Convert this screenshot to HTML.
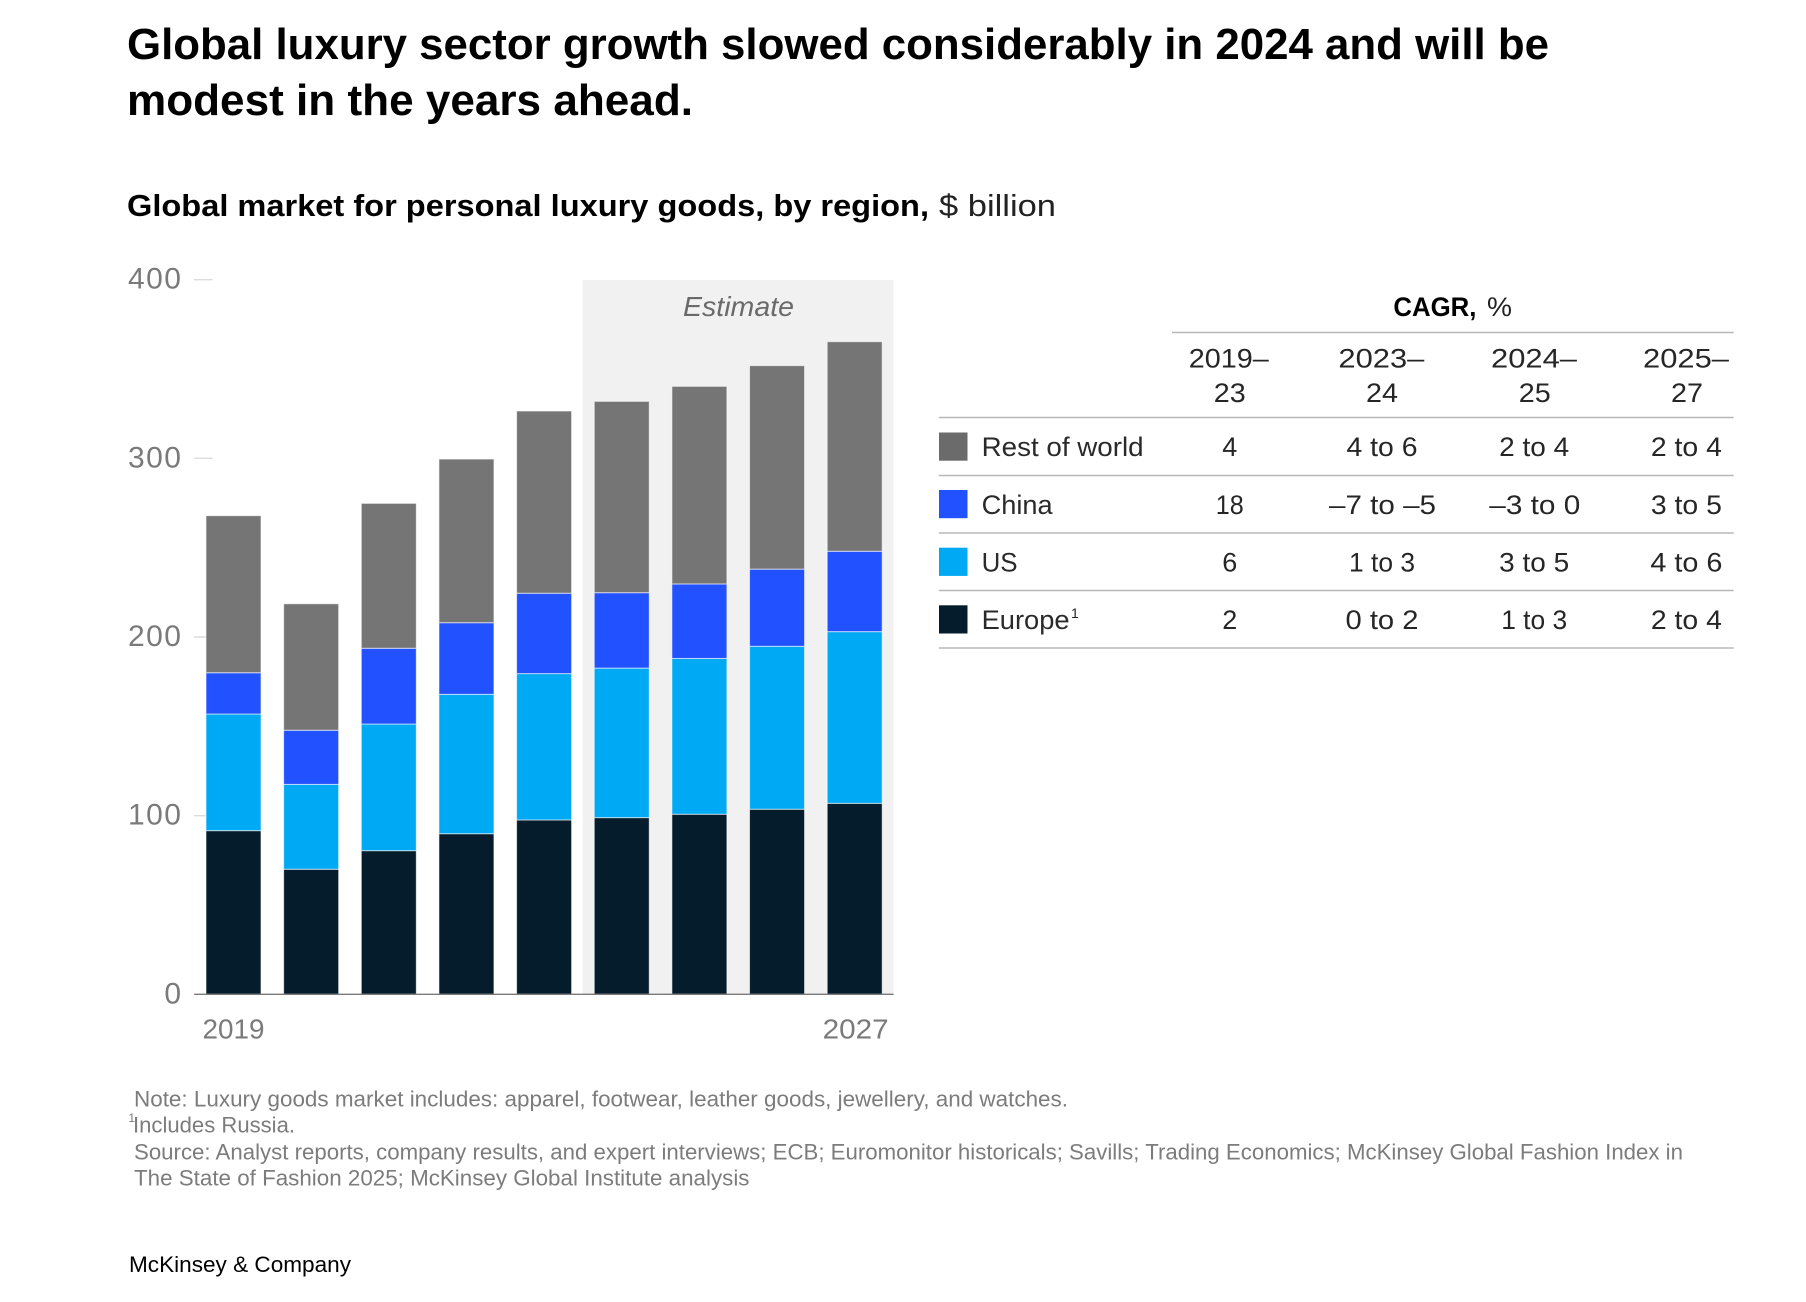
<!DOCTYPE html>
<html lang="en">
<head>
<meta charset="utf-8">
<title>Global luxury sector growth</title>
<style>
html,body{margin:0;padding:0;background:#fff;}
svg{display:block;font-family:"Liberation Sans",Arial,sans-serif;}
.cell{font-size:27px;fill:#262626;text-anchor:middle;}
.lab{font-size:27px;fill:#2a2a2a;}
.foot{font-size:22px;fill:#7c7c7c;}
.rule{stroke:#b8b8b8;stroke-width:1.4;}
</style>
</head>
<body>
<svg id="page" xmlns="http://www.w3.org/2000/svg" width="1806" height="1302" viewBox="0 0 1806 1302">
  <text x="127" y="59" font-size="44" font-weight="700" fill="#000" textLength="1422" lengthAdjust="spacingAndGlyphs">Global luxury sector growth slowed considerably in 2024 and will be</text>
  <text x="127" y="115" font-size="44" font-weight="700" fill="#000" textLength="566" lengthAdjust="spacingAndGlyphs">modest in the years ahead.</text>
  <text x="127" y="216" font-size="31" font-weight="700" fill="#000" textLength="802" lengthAdjust="spacingAndGlyphs">Global market for personal luxury goods, by region,</text>
  <text x="939" y="216" font-size="31" fill="#222" textLength="117" lengthAdjust="spacingAndGlyphs">$ billion</text>

  <rect x="582.7" y="280" width="310.6" height="714.3" fill="#f1f1f1"/>
  <text x="683" y="316" font-size="28" font-style="italic" fill="#6a6a6a" textLength="111" lengthAdjust="spacingAndGlyphs">Estimate</text>

  <g id="ticks"></g>
  <g id="bars"></g>
  <g id="xlabels"></g>

  <g>
    <text x="1393.4" y="316" font-size="27" font-weight="700" fill="#000" textLength="83" lengthAdjust="spacingAndGlyphs">CAGR,</text>
    <text x="1487" y="316" font-size="27" fill="#222" textLength="25" lengthAdjust="spacingAndGlyphs">%</text>
    <line class="rule" x1="1172" x2="1733.7" y1="332.5" y2="332.5"/>

    <text class="cell" x="1228.8" y="367.5" textLength="80" lengthAdjust="spacingAndGlyphs">2019–</text>
    <text class="cell" x="1229.8" y="402" textLength="32" lengthAdjust="spacingAndGlyphs">23</text>
    <text class="cell" x="1381.4" y="367.5" textLength="86" lengthAdjust="spacingAndGlyphs">2023–</text>
    <text class="cell" x="1382" y="402" textLength="32" lengthAdjust="spacingAndGlyphs">24</text>
    <text class="cell" x="1534" y="367.5" textLength="86" lengthAdjust="spacingAndGlyphs">2024–</text>
    <text class="cell" x="1534.8" y="402" textLength="32" lengthAdjust="spacingAndGlyphs">25</text>
    <text class="cell" x="1686" y="367.5" textLength="86" lengthAdjust="spacingAndGlyphs">2025–</text>
    <text class="cell" x="1687" y="402" textLength="32" lengthAdjust="spacingAndGlyphs">27</text>

    <line class="rule" x1="938.8" x2="1733.7" y1="417.5" y2="417.5"/>
    <rect x="939" y="432.5" width="28.5" height="28.2" fill="#6b6b6b"/>
    <text class="lab" x="981.6" y="456" textLength="162" lengthAdjust="spacingAndGlyphs">Rest of world</text>
    <text class="cell" x="1229.8" y="456">4</text>
    <text class="cell" x="1382" y="456" textLength="71" lengthAdjust="spacingAndGlyphs">4 to 6</text>
    <text class="cell" x="1534.2" y="456" textLength="70" lengthAdjust="spacingAndGlyphs">2 to 4</text>
    <text class="cell" x="1686.4" y="456" textLength="71" lengthAdjust="spacingAndGlyphs">2 to 4</text>

    <line class="rule" x1="938.8" x2="1733.7" y1="475.5" y2="475.5"/>
    <rect x="939" y="490" width="28.5" height="28.2" fill="#2251ff"/>
    <text class="lab" x="981.6" y="514" textLength="71" lengthAdjust="spacingAndGlyphs">China</text>
    <text class="cell" x="1229.8" y="514" textLength="28" lengthAdjust="spacingAndGlyphs">18</text>
    <text class="cell" x="1382.5" y="514" textLength="107" lengthAdjust="spacingAndGlyphs">–7 to –5</text>
    <text class="cell" x="1534.8" y="514" textLength="91" lengthAdjust="spacingAndGlyphs">–3 to 0</text>
    <text class="cell" x="1686.4" y="514" textLength="71" lengthAdjust="spacingAndGlyphs">3 to 5</text>

    <line class="rule" x1="938.8" x2="1733.7" y1="533" y2="533"/>
    <rect x="939" y="547.7" width="28.5" height="28.2" fill="#00a9f4"/>
    <text class="lab" x="981.6" y="571.5" textLength="36" lengthAdjust="spacingAndGlyphs">US</text>
    <text class="cell" x="1229.8" y="571.5">6</text>
    <text class="cell" x="1382" y="571.5" textLength="66" lengthAdjust="spacingAndGlyphs">1 to 3</text>
    <text class="cell" x="1534.2" y="571.5" textLength="70" lengthAdjust="spacingAndGlyphs">3 to 5</text>
    <text class="cell" x="1686.4" y="571.5" textLength="72" lengthAdjust="spacingAndGlyphs">4 to 6</text>

    <line class="rule" x1="938.8" x2="1733.7" y1="590.5" y2="590.5"/>
    <rect x="939" y="605.3" width="28.5" height="28.2" fill="#051c2c"/>
    <text class="lab" x="981.6" y="629" textLength="88" lengthAdjust="spacingAndGlyphs">Europe</text>
    <text x="1071" y="618" font-size="14" fill="#222">1</text>
    <text class="cell" x="1229.8" y="629">2</text>
    <text class="cell" x="1382" y="629" textLength="73" lengthAdjust="spacingAndGlyphs">0 to 2</text>
    <text class="cell" x="1534.2" y="629" textLength="66" lengthAdjust="spacingAndGlyphs">1 to 3</text>
    <text class="cell" x="1686.4" y="629" textLength="71" lengthAdjust="spacingAndGlyphs">2 to 4</text>
    <line class="rule" x1="938.8" x2="1733.7" y1="648" y2="648"/>
  </g>

  <g>
    <text class="foot" x="134" y="1106.4" textLength="934" lengthAdjust="spacingAndGlyphs">Note: Luxury goods market includes: apparel, footwear, leather goods, jewellery, and watches.</text>
    <text x="128.4" y="1122" font-size="12" fill="#7c7c7c">1</text>
    <text class="foot" x="133" y="1132.4" textLength="162" lengthAdjust="spacingAndGlyphs">Includes Russia.</text>
    <text class="foot" x="134" y="1159.4" textLength="1549" lengthAdjust="spacingAndGlyphs">Source: Analyst reports, company results, and expert interviews; ECB; Euromonitor historicals; Savills; Trading Economics; McKinsey Global Fashion Index in</text>
    <text class="foot" x="134" y="1185.4" textLength="615.5" lengthAdjust="spacingAndGlyphs">The State of Fashion 2025; McKinsey Global Institute analysis</text>
  </g>
  <text x="129" y="1272" font-size="22.5" fill="#000" textLength="222" lengthAdjust="spacingAndGlyphs">McKinsey &amp; Company</text>
</svg>
<script>
const categories = [2019, 2020, 2021, 2022, 2023, 2024, 2025, 2026, 2027];
const europe = [91.6, 70, 80.4, 89.9, 97.6, 98.9, 100.8, 103.6, 106.9];
const us = [65.3, 47.5, 70.9, 78, 81.9, 83.7, 87.2, 91.2, 96.1];
const china = [23.1, 30.3, 42.4, 40.1, 45, 42.2, 41.7, 43.2, 45];
const rest = [87.9, 70.8, 81.1, 91.6, 102, 107.1, 110.6, 113.9, 117.3];
const yTicks = [0, 100, 200, 300, 400];
const xLabelYears = [2019, 2027];

const NS = 'http://www.w3.org/2000/svg';
const stackSeries = [
  { key: 'europe', values: europe, color: '#051c2c' },
  { key: 'us', values: us, color: '#00a9f4' },
  { key: 'china', values: china, color: '#2251ff' },
  { key: 'rest-of-world', values: rest, color: '#757575' }
];
const baseY = 994.3, unitPx = 1.7865, firstBarX = 206, stepX = 77.65, barW = 55;
function yScale(v) { return baseY - v * unitPx; }
function xScale(i) { return firstBarX + i * stepX; }
function make(tag, attrs) {
  const el = document.createElementNS(NS, tag);
  for (const k in attrs) el.setAttribute(k, attrs[k]);
  return el;
}

const ticksG = document.getElementById('ticks');
yTicks.forEach(function (t) {
  const mark = make('line', { x1: 194, x2: 212.7, y1: yScale(t), y2: yScale(t), stroke: '#dcdcdc', 'stroke-width': 1.4 });
  
  
  ticksG.appendChild(mark);
  const label = make('text', { x: 182.5, y: yScale(t) + 9, 'text-anchor': 'end', 'font-size': 30, 'letter-spacing': 1.5, fill: '#7a7a7a' });
  
  
  label.textContent = t;
  ticksG.appendChild(label);
});

const barsG = document.getElementById('bars');
categories.forEach(function (year, i) {
  let cum = 0;
  stackSeries.forEach(function (s) {
    const v = s.values[i];
    const top = yScale(cum + v);
    const rect = make('rect', { x: xScale(i), y: top, width: barW, height: yScale(cum) - top, fill: s.color, stroke: '#fff', 'stroke-width': 1, 'stroke-opacity': 0.6 });
    
    
    barsG.appendChild(rect);
    cum += v;
  });
});

const xG = document.getElementById('xlabels');
const axisLine = make('line', { x1: 194.3, x2: 893.6, y1: baseY, y2: baseY, stroke: '#7a7a7a', 'stroke-width': 1.4 });


xG.appendChild(axisLine);
xLabelYears.forEach(function (year, n) {
  const i = categories.indexOf(year);
  const label = make('text', { x: xScale(i) + barW / 2 + n, y: 1038.4, 'text-anchor': 'middle', 'font-size': 28, fill: '#7a7a7a', textLength: n ? 66 : 62, lengthAdjust: 'spacingAndGlyphs' });
  
  
  label.textContent = year;
  xG.appendChild(label);
});
</script>
</body>
</html>
